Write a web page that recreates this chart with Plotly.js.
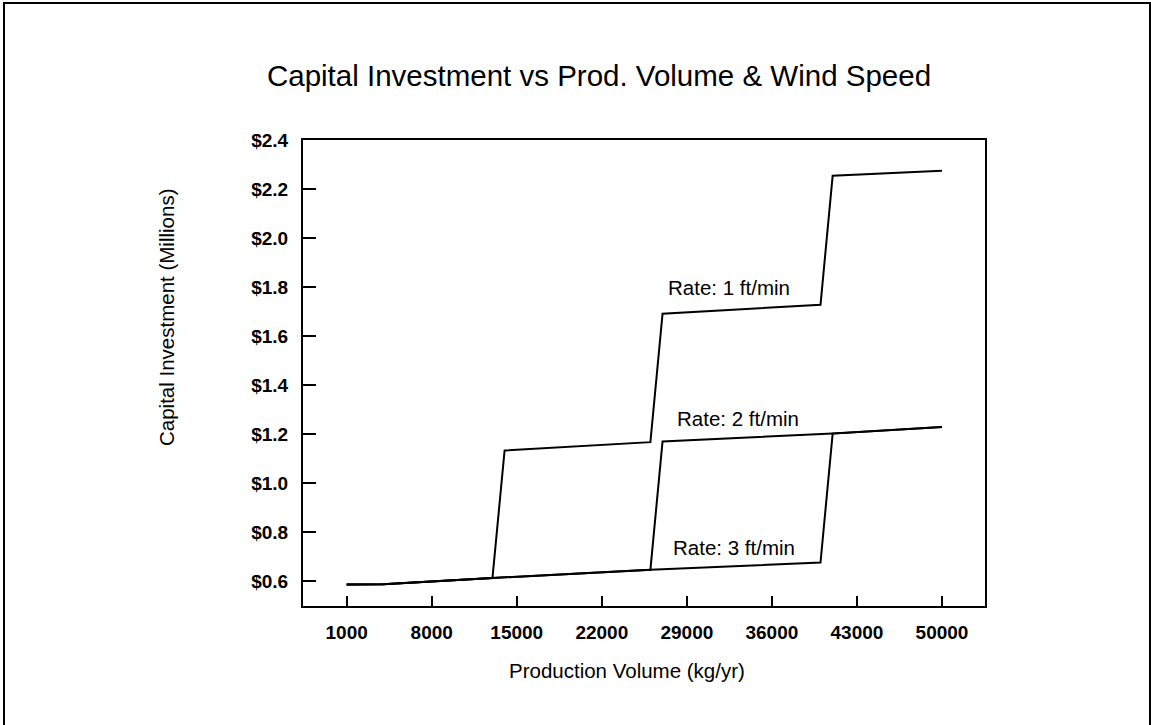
<!DOCTYPE html>
<html>
<head>
<meta charset="utf-8">
<script src="https://cdn.plot.ly/plotly-3.0.1.min.js"></script>
<style>
  html, body { margin: 0; padding: 0; background: #fff; overflow: hidden; }
  #chart { position: absolute; left: 0; top: 0; width: 1151px; height: 725px; }
  #frame { position: absolute; left: 3px; top: 2px; width: 1144px; height: 721px;
           border-left: 2px solid #000; border-top: 2px solid #000; border-right: 2px solid #000;
           pointer-events: none; }
</style>
</head>
<body>
<div id="chart"></div>
<div id="frame"></div>
<script>
// Production volume (kg/yr) and capital investment ($ millions) per wind speed
const rate1X = [1000, 4000, 13000, 14000, 26000, 27000, 40000, 41000, 50000];
const rate1Y = [0.588, 0.589, 0.614, 1.134, 1.168, 1.692, 1.728, 2.254, 2.275];
const rate2X = [1000, 4000, 13000, 26000, 27000, 41000, 50000];
const rate2Y = [0.588, 0.589, 0.614, 0.648, 1.171, 1.203, 1.230];
const rate3X = [1000, 4000, 13000, 26000, 40000, 41000, 50000];
const rate3Y = [0.588, 0.589, 0.614, 0.648, 0.677, 1.203, 1.230];
const seriesNames = ['Rate: 1 ft/min', 'Rate: 2 ft/min', 'Rate: 3 ft/min'];
const xTickVals = [1000, 8000, 15000, 22000, 29000, 36000, 43000, 50000];
const xTickText = ['1000', '8000', '15000', '22000', '29000', '36000', '43000', '50000'];
const yTickVals = [0.6, 0.8, 1.0, 1.2, 1.4, 1.6, 1.8, 2.0, 2.2, 2.4];
const yTickText = ['$0.6', '$0.8', '$1.0', '$1.2', '$1.4', '$1.6', '$1.8', '$2.0', '$2.2', '$2.4'];

const FONT = 'Liberation Sans, Arial, Helvetica, sans-serif';
const lineStyle = {color: '#000', width: 2};
const labelFont = {family: FONT, size: 20.5, color: '#000'};

const traces = [
  {x: rate3X, y: rate3Y, name: seriesNames[2]},
  {x: rate2X, y: rate2Y, name: seriesNames[1]},
  {x: rate1X, y: rate1Y, name: seriesNames[0]}
].map(t => Object.assign(t, {type: 'scatter', mode: 'lines', line: lineStyle, hoverinfo: 'x+y+name'}));

const layout = {
  width: 1151, height: 725,
  margin: {l: 303, r: 166, t: 140, b: 119, pad: 0},
  paper_bgcolor: '#fff', plot_bgcolor: '#fff',
  showlegend: false,
  font: {family: FONT, color: '#000', size: 18},
  title: {text: 'Capital Investment vs Prod. Volume &amp; Wind Speed',
          font: {family: FONT, size: 29.5, color: '#000'},
          x: 599 / 1151, xref: 'container', xanchor: 'center',
          y: 1 - 76 / 725, yref: 'container', yanchor: 'middle'},
  xaxis: {
    range: [-2593, 53539], tickmode: 'array', tickvals: xTickVals, ticktext: xTickText,
    ticks: 'inside', ticklen: 10, tickwidth: 2, tickcolor: '#000',
    showline: true, linecolor: '#000', linewidth: 2, mirror: true,
    showgrid: false, zeroline: false,
    tickfont: {family: FONT, size: 19, color: '#000', weight: 'bold'},
    ticklabelstandoff: 8
  },
  yaxis: {
    range: [0.5, 2.4], tickmode: 'array', tickvals: yTickVals, ticktext: yTickText,
    ticks: 'inside', ticklen: 13, tickwidth: 2, tickcolor: '#000',
    showline: true, linecolor: '#000', linewidth: 2, mirror: true,
    showgrid: false, zeroline: false,
    tickfont: {family: FONT, size: 19, color: '#000', weight: 'bold'},
    ticklabelstandoff: 9
  },
  annotations: [
    {text: 'Production Volume (kg/yr)', xref: 'paper', yref: 'paper',
     x: (627 - 303) / 682, y: (606 - 670) / 466, xanchor: 'center', yanchor: 'middle',
     showarrow: false, font: labelFont},
    {text: 'Capital Investment (Millions)', xref: 'paper', yref: 'paper',
     x: (166 - 303) / 682, y: (606 - 318) / 466, xanchor: 'center', yanchor: 'middle',
     textangle: -90, showarrow: false, font: labelFont},
    {text: seriesNames[0], x: 32458, y: 1.797, xref: 'x', yref: 'y', showarrow: false,
     xanchor: 'center', yanchor: 'middle', font: labelFont},
    {text: seriesNames[1], x: 33239, y: 1.266, xref: 'x', yref: 'y', showarrow: false,
     xanchor: 'center', yanchor: 'middle', font: labelFont},
    {text: seriesNames[2], x: 32885, y: 0.740, xref: 'x', yref: 'y', showarrow: false,
     xanchor: 'center', yanchor: 'middle', font: labelFont}
  ]
};

Plotly.newPlot('chart', traces, layout, {displayModeBar: false, staticPlot: true});
</script>
</body>
</html>
